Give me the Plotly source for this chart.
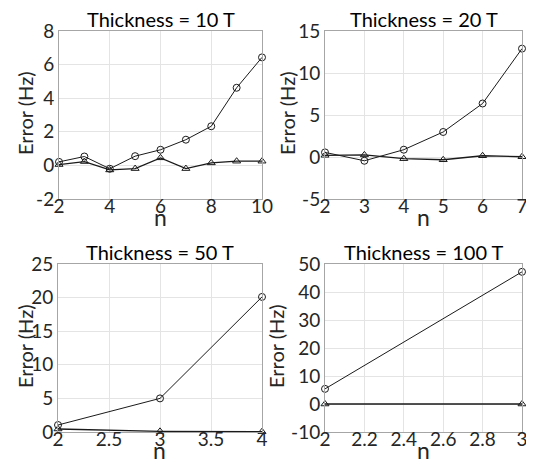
import plotly.graph_objects as go

# The page body adds an 8px margin; the figure is sized so the page does not overflow the window.
OFF = 8
W, H = 534 - OFF, 471 - 2 * OFF

# ---- data ----
n_10 = [2, 3, 4, 5, 6, 7, 8, 9, 10]
circ_10 = [0.21, 0.53, -0.2, 0.55, 0.93, 1.53, 2.33, 4.62, 6.43]
tri_10 = [0.05, 0.23, -0.27, -0.19, 0.45, -0.19, 0.15, 0.25, 0.25]

n_20 = [2, 3, 4, 5, 6, 7]
circ_20 = [0.55, -0.45, 0.87, 2.98, 6.37, 12.9]
tri_20 = [0.2, 0.25, -0.2, -0.33, 0.15, 0.03]

n_50 = [2, 3, 4]
circ_50 = [1.04, 5.0, 20.1]
tri_50 = [0.45, 0.1, 0.05]

n_100 = [2, 3]
circ_100 = [5.4, 47.2]
tri_100 = [0.0, 0.0]

titles = ["Thickness = 10 T", "Thickness = 20 T", "Thickness = 50 T", "Thickness = 100 T"]
x_ticks = [[2, 4, 6, 8, 10], [2, 3, 4, 5, 6, 7], [2, 2.5, 3, 3.5, 4], [2, 2.2, 2.4, 2.6, 2.8, 3]]
y_ticks = [[-2, 0, 2, 4, 6, 8], [-5, 0, 5, 10, 15], [0, 5, 10, 15, 20, 25], [-10, 0, 10, 20, 30, 40, 50]]
x_ranges = [[2, 10], [2, 7], [2, 4], [2, 3]]
y_ranges = [[-2, 8], [-5, 15], [0, 25], [-10, 50]]

series = [(n_10, circ_10, tri_10), (n_20, circ_20, tri_20), (n_50, circ_50, tri_50), (n_100, circ_100, tri_100)]

# plot boxes in window pixels: (left, right, top, bottom)
boxes = [(59, 262, 31, 199), (325, 522, 31, 199), (58, 262, 264, 432), (325, 522, 264, 432)]


def fx(px):
    return (px - OFF) / W


def fy(py):
    return 1 - (py - OFF) / H


FONT = "Lato"
fig = go.Figure()
line_col = "#1a1a1a"

for i, (xs, c, t) in enumerate(series):
    ax = "" if i == 0 else str(i + 1)
    fig.add_trace(go.Scatter(x=xs, y=c, mode="lines+markers", xaxis="x" + ax, yaxis="y" + ax,
                             line=dict(color=line_col, width=1),
                             marker=dict(symbol="circle-open", size=7, color=line_col, line=dict(width=1)),
                             showlegend=False, cliponaxis=False))
    fig.add_trace(go.Scatter(x=xs, y=t, mode="lines+markers", xaxis="x" + ax, yaxis="y" + ax,
                             line=dict(color=line_col, width=1.3),
                             marker=dict(symbol="triangle-up-open", size=7, color=line_col, line=dict(width=1)),
                             showlegend=False, cliponaxis=False))

layout = dict(width=W, height=H, margin=dict(l=0, r=0, t=0, b=0, autoexpand=False),
              paper_bgcolor="white", plot_bgcolor="white",
              font=dict(family=FONT, size=18, color="#262626"))
annotations = []
for i, (l, r, tp, bt) in enumerate(boxes):
    key = "" if i == 0 else str(i + 1)
    layout["xaxis" + key] = dict(domain=[fx(l), fx(r)], range=x_ranges[i], anchor="y" + key,
                                 tickvals=x_ticks[i], ticktext=[("%g" % v) for v in x_ticks[i]],
                                 showgrid=True, gridcolor="#e4e4e4", gridwidth=1,
                                 showline=True, linecolor="#a6a6a6", linewidth=1, mirror=True,
                                 ticks="", zeroline=False, ticklabelstandoff=-10,
                                 ticklabeloverflow="allow",
                                 automargin=False, tickfont=dict(size=19, color="#262626"))
    layout["yaxis" + key] = dict(domain=[fy(bt), fy(tp)], range=y_ranges[i], anchor="x" + key,
                                 tickvals=y_ticks[i], ticktext=[("%g" % v) for v in y_ticks[i]],
                                 showgrid=True, gridcolor="#e4e4e4", gridwidth=1,
                                 showline=True, linecolor="#a6a6a6", linewidth=1, mirror=True,
                                 ticks="", zeroline=False, automargin=False,
                                 ticklabeloverflow="allow",
                                 tickfont=dict(size=19, color="#262626"))
    cx = (l + r) / 2
    annotations.append(dict(text=titles[i], x=fx(cx), y=fy(tp - 12.5), xref="paper", yref="paper",
                            xanchor="center", yanchor="middle", showarrow=False,
                            font=dict(size=20, color="#000000", family=FONT)))
    annotations.append(dict(text="n", x=fx(cx), y=fy(bt + 18), xref="paper", yref="paper",
                            xanchor="center", yanchor="middle", showarrow=False,
                            font=dict(size=23, color="#262626", family=FONT)))
yt_x = [25, 287, 25, 276]
for i, (l, r, tp, bt) in enumerate(boxes):
    annotations.append(dict(text="Error (Hz)", x=fx(yt_x[i]), y=fy((tp + bt) / 2 - 2),
                            xref="paper", yref="paper", textangle=-90,
                            xanchor="center", yanchor="middle", showarrow=False,
                            font=dict(size=20, color="#262626", family=FONT)))
layout["annotations"] = annotations
fig.update_layout(**layout)
fig.write_html("out.html")
